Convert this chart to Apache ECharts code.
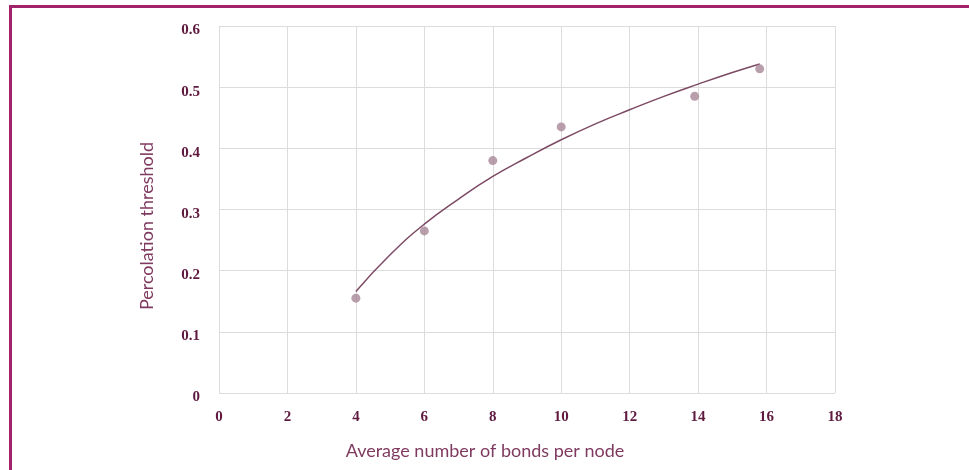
<!DOCTYPE html>
<html>
<head>
<meta charset="utf-8">
<script src="https://cdn.jsdelivr.net/npm/echarts@6/dist/echarts.min.js"></script>
<style>
  html, body { margin: 0; padding: 0; background: #ffffff; }
  #chart { width: 969px; height: 470px; }
</style>
</head>
<body>
<div id="chart"></div>
<script>
// Measured percolation thresholds against mean connectivity
const bondsPerNode = [4, 6, 8, 10, 13.9, 15.8];
const threshold = [0.155, 0.265, 0.38, 0.435, 0.485, 0.53];

// Fitted trend curve (logarithmic), sampled along the x range
const trendX = [4, 5, 6, 7, 8, 9, 10, 11, 12, 13, 14, 15, 15.8];
const trendY = [0.166, 0.226, 0.276, 0.317, 0.354, 0.385, 0.414, 0.440, 0.463, 0.485, 0.505, 0.524, 0.538];

const xTicks = [0, 2, 4, 6, 8, 10, 12, 14, 16, 18];
const yTicks = [0, 0.1, 0.2, 0.3, 0.4, 0.5, 0.6];

const xTitle = 'Average number of bonds per node';
const yTitle = 'Percolation threshold';

const labelColor = '#5f1a3f';
const titleColor = '#7f3a5f';
const frameColor = '#a2236b';

const chart = echarts.init(document.getElementById('chart'), null, { renderer: 'canvas' });

const tickFont = {
  color: labelColor,
  fontFamily: 'Liberation Serif, Times New Roman, serif',
  fontWeight: 'bold',
  fontSize: 15
};

chart.setOption({
  animation: false,
  backgroundColor: '#ffffff',
  grid: { left: 219, top: 26, width: 616, height: 367, show: true, backgroundColor: '#ffffff', borderWidth: 0 },
  xAxis: {
    type: 'value',
    min: xTicks[0],
    max: xTicks[xTicks.length - 1],
    interval: 2,
    axisLine: { show: false },
    axisTick: { show: false },
    splitLine: { show: true, lineStyle: { color: '#dcdcdc', width: 1 } },
    axisLabel: Object.assign({ margin: 17 }, tickFont)
  },
  yAxis: {
    type: 'value',
    min: yTicks[0],
    max: yTicks[yTicks.length - 1],
    interval: 0.1,
    axisLine: { show: false },
    axisTick: { show: false },
    splitLine: { show: true, lineStyle: { color: '#dcdcdc', width: 1 } },
    axisLabel: {
      margin: 19,
      formatter: '{v|{value}}',
      rich: { v: Object.assign({ padding: [9, 0, 0, 0] }, tickFont) }
    }
  },
  series: [
    {
      type: 'line',
      data: trendX.map((x, i) => [x, trendY[i]]),
      smooth: true,
      showSymbol: false,
      lineStyle: { color: '#7c4a64', width: 1.5 },
      z: 2
    },
    {
      type: 'scatter',
      data: bondsPerNode.map((x, i) => [x, threshold[i]]),
      symbolSize: 9,
      itemStyle: { color: '#a88797' },
      z: 3
    }
  ],
  graphic: [
    { type: 'rect', z: -10, shape: { x: 9, y: 5, width: 960, height: 3 }, style: { fill: frameColor } },
    { type: 'rect', z: -10, shape: { x: 9, y: 5, width: 3, height: 465 }, style: { fill: frameColor } },
    {
      type: 'text', x: 485, y: 451,
      style: {
        text: xTitle, fill: titleColor, fontSize: 18,
        fontFamily: 'Lato, Open Sans, sans-serif',
        align: 'center', verticalAlign: 'middle'
      }
    },
    {
      type: 'text', x: 147, y: 226, rotation: Math.PI / 2,
      style: {
        text: yTitle, fill: titleColor, fontSize: 18,
        fontFamily: 'Lato, Open Sans, sans-serif',
        align: 'center', verticalAlign: 'middle'
      }
    }
  ]
});
</script>
</body>
</html>
